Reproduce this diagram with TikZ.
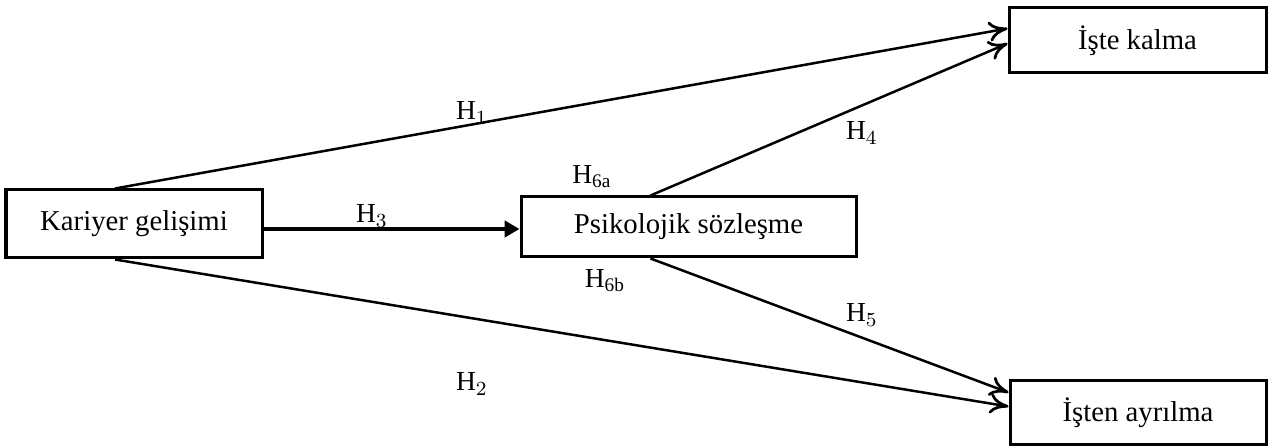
\documentclass[tikz,border=0pt]{standalone}
\usepackage{fontspec}
\setmainfont{Liberation Serif}
\usetikzlibrary{calc,arrows.meta}
\begin{document}
\begin{tikzpicture}[x=0.4pt,y=-0.4pt,
  box/.style={draw,line width=1.2pt,fill=white,inner sep=0pt,font=\fontsize{11.5}{13}\selectfont},
  link/.style={line width=1pt,-{To[length=7.5pt,width=8pt,line width=1.1pt]}},
  mainlink/.style={line width=1.7pt,-{Triangle[length=6pt,width=6.5pt]}},
  lab/.style={inner sep=0pt,font=\fontsize{11}{12}\selectfont}]
\useasboundingbox (0,0) rectangle (1268,446);
% constructs
\node[box,minimum width=256*0.4pt,minimum height=68*0.4pt] (kar) at (134,224) {Kariyer gelişimi};
\node[box,minimum width=335*0.4pt,minimum height=60*0.4pt] (ps) at (688.5,227) {Psikolojik sözleşme};
\node[box,minimum width=257*0.4pt,minimum height=65*0.4pt] (ik) at (1137.5,40.5) {İşte kalma};
\node[box,minimum width=256*0.4pt,minimum height=64*0.4pt] (ia) at (1138,412.5) {İşten ayrılma};
% hypothesised paths
\draw[link] ($(kar.north)+(-19,0)$) -- ($(ik.west)+(0,-12)$);
\draw[link] ($(kar.south)+(-19,0)$) -- ($(ia.west)+(0,-6)$);
\draw[mainlink] ($(kar.east)+(0,5)$) coordinate (h3s) -- (ps.west |- h3s);
\draw[link] ($(ps.north)+(-38,0)$) -- ($(ik.west)+(0,3)$);
\draw[link] ($(ps.south)+(-38,0)$) -- ($(ia.west)+(0,-20)$);
% path labels
\node[lab] (l1) at (472,113) {H$_1$};
\node[lab] (l2) at (472,384) {H$_2$};
\node[lab] (l3) at (372,216) {H$_3$};
\node[lab] (l4) at (862,133) {H$_4$};
\node[lab] (l5) at (862,315) {H$_5$};
\node[lab] (l6a) at (592,177) {H$_{\mathrm{6a}}$};
\node[lab] (l6b) at (605,281) {H$_{\mathrm{6b}}$};
\end{tikzpicture}
\end{document}
